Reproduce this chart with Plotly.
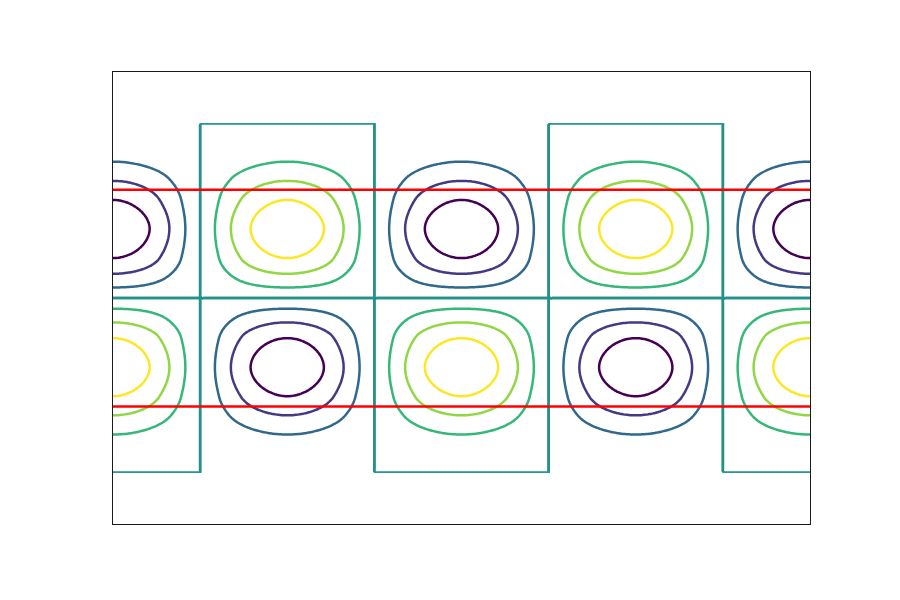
import numpy as np
import plotly.graph_objects as go

# ---- values ----
# horizontal field profile: cells of one half-period each, centred on x = 0..4
x_range = [0.0, 4.0]
# vertical profile of the field, read from where each contour crosses the centre column
# (s = 0 is the middle zero line, s = 1 the upper edge of the data)
prof_s = [0.0, 0.0606, 0.139, 0.229, 0.397, 0.562, 0.671, 0.781, 1.0]
prof_f = [0.0, 0.263, 0.526, 0.789, 1.0, 0.789, 0.526, 0.263, 0.0]
amplitude = -0.95
levels = [-0.75, -0.5, -0.25, 0.0, 0.25, 0.5, 0.75]
level_colors = ["#440154", "#443983", "#31688e", "#21918c", "#35b779", "#90d743", "#fde725"]
red_levels = [0.62, -0.62]
y_axis_range = [-1.293, 1.294]


def pchip(xk, yk, xq):
    xk = np.asarray(xk, float)
    yk = np.asarray(yk, float)
    h = np.diff(xk)
    d = np.diff(yk) / h
    m = np.zeros_like(yk)
    for k in range(1, len(xk) - 1):
        if d[k - 1] * d[k] <= 0:
            m[k] = 0.0
        else:
            w1 = 2 * h[k] + h[k - 1]
            w2 = h[k] + 2 * h[k - 1]
            m[k] = (w1 + w2) / (w1 / d[k - 1] + w2 / d[k])
    m[0] = d[0]
    m[-1] = d[-1]
    idx = np.clip(np.searchsorted(xk, xq) - 1, 0, len(xk) - 2)
    t = (xq - xk[idx]) / h[idx]
    h00 = 2 * t**3 - 3 * t**2 + 1
    h10 = t**3 - 2 * t**2 + t
    h01 = -2 * t**3 + 3 * t**2
    h11 = t**3 - t**2
    return (h00 * yk[idx] + h10 * h[idx] * m[idx] + h01 * yk[idx + 1] + h11 * h[idx] * m[idx + 1])


# odd-symmetric profile over the whole data height
full_s = [-v for v in prof_s[::-1]] + prof_s[1:]
full_f = [-v for v in prof_f[::-1]] + prof_f[1:]

xs = np.linspace(x_range[0], x_range[1], 401)
ys = np.linspace(-1.0, 1.0, 201)
fy = pchip(full_s, full_f, ys)
fy[0] = 0.0
fy[-1] = 0.0
fy[100] = 0.0
Z = amplitude * np.outer(fy, np.cos(np.pi * xs))

n = len(level_colors)
colorscale = [[i / (n - 1), c] for i, c in enumerate(level_colors)]
zero_color = level_colors[3]

fig = go.Figure()
fig.add_trace(go.Contour(
    x=xs, y=ys, z=Z,
    autocontour=False,
    contours=dict(start=levels[0], end=levels[-1], size=levels[1] - levels[0], coloring="lines"),
    colorscale=colorscale, zauto=False, zmin=levels[0], zmax=levels[-1],
    line=dict(width=2.5, smoothing=1.0),
    showscale=False, hoverinfo="skip",
))
# zero level drawn once more so it reads as solid as the other levels
fig.add_trace(go.Contour(
    x=xs, y=ys, z=Z,
    autocontour=False,
    contours=dict(start=levels[3], end=levels[3], size=1, coloring="lines"),
    colorscale=[[0, zero_color], [1, zero_color]],
    line=dict(width=2.5, smoothing=1.0),
    showscale=False, hoverinfo="skip",
))

for yv in red_levels:
    fig.add_shape(type="line", xref="x domain", yref="y", x0=0, x1=1, y0=yv, y1=yv,
                  line=dict(color="red", width=2.5))

fig.update_xaxes(range=x_range, showticklabels=False, ticks="", showgrid=False, zeroline=False,
                 showline=True, mirror=True, linecolor="#1a1a1a", linewidth=1.2)
fig.update_yaxes(range=y_axis_range, showticklabels=False, ticks="", showgrid=False, zeroline=False,
                 showline=True, mirror=True, linecolor="#1a1a1a", linewidth=1.2)
# the page body adds an 8 px offset, so margins are shifted to keep the frame in place
fig.update_layout(width=900, height=600, margin=dict(l=105, r=98, t=64, b=84),
                  plot_bgcolor="white", paper_bgcolor="white", showlegend=False)

fig.write_html("out.html")
